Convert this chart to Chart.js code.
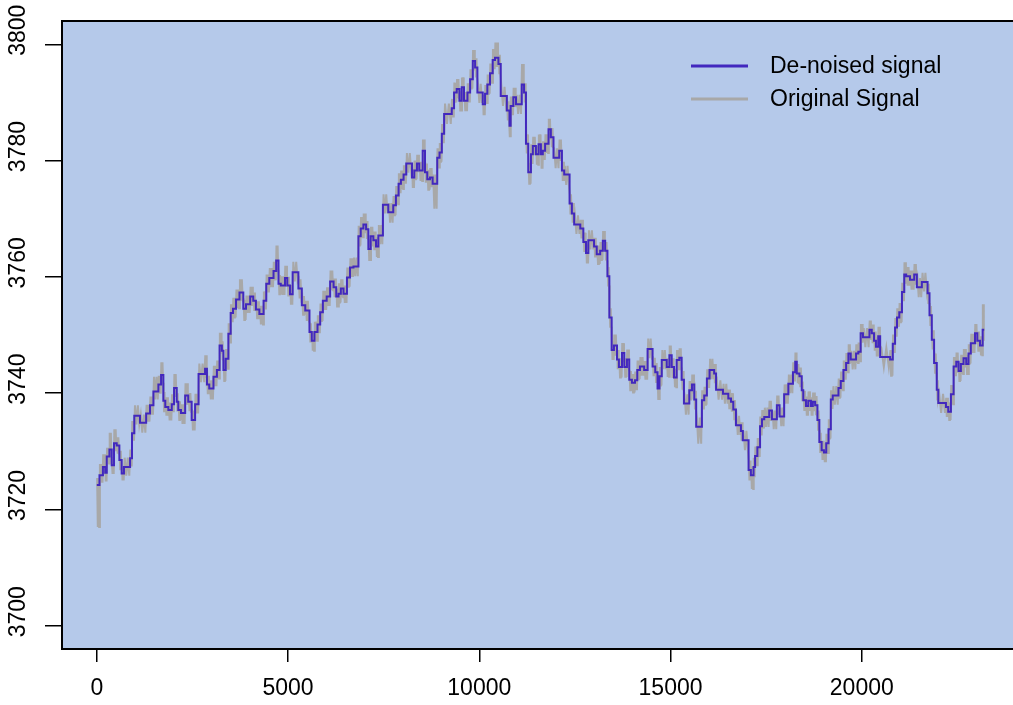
<!DOCTYPE html>
<html>
<head>
<meta charset="utf-8">
<script src="https://cdn.jsdelivr.net/npm/chart.js@4.4.0/dist/chart.umd.min.js"></script>
<style>
  html, body { margin: 0; padding: 0; background: #fff; }
  #wrap { width: 1013px; height: 705px; position: relative; }
</style>
</head>
<body>
<div id="wrap"><canvas id="myChart"></canvas></div>
<script>
// x where each level of the de-noised (step) signal starts
const stepX = [
  0, 70, 160, 220, 260, 330, 390, 450, 520, 590,
  650, 710, 870, 920, 980, 1130, 1290, 1390, 1480, 1610,
  1680, 1740, 1790, 1870, 1960, 2020, 2090, 2130, 2200, 2310,
  2390, 2480, 2570, 2660, 2830, 2880, 2940, 3050, 3140, 3210,
  3270, 3310, 3370, 3440, 3500, 3560, 3640, 3730, 3830, 3900,
  4010, 4090, 4160, 4250, 4360, 4430, 4510, 4620, 4690, 4750,
  4810, 4920, 4980, 5050, 5120, 5270, 5360, 5450, 5560, 5620,
  5690, 5770, 5840, 5910, 6010, 6100, 6190, 6260, 6320, 6380,
  6450, 6540, 6620, 6710, 6840, 6900, 6970, 7040, 7100, 7160,
  7230, 7300, 7360, 7480, 7620, 7750, 7820, 7890, 7950, 8020,
  8090, 8240, 8300, 8370, 8430, 8520, 8580, 8640, 8710, 8780,
  8900, 8960, 9020, 9080, 9280, 9340, 9410, 9480, 9540, 9600,
  9690, 9760, 9830, 9890, 9950, 10090, 10150, 10210, 10280, 10350,
  10410, 10500, 10560, 10720, 10790, 10820, 10890, 10960, 11110, 11170,
  11220, 11280, 11350, 11400, 11480, 11550, 11610, 11660, 11720, 11810,
  11870, 11940, 12090, 12160, 12220, 12360, 12420, 12480, 12640, 12720,
  12790, 12850, 13000, 13070, 13160, 13230, 13290, 13350, 13400, 13460,
  13520, 13600, 13650, 13730, 13790, 13860, 13920, 13990, 14070, 14130,
  14200, 14310, 14400, 14530, 14600, 14660, 14710, 14770, 14900, 14970,
  15030, 15090, 15160, 15230, 15290, 15350, 15490, 15560, 15620, 15670,
  15820, 15880, 15950, 16020, 16140, 16190, 16370, 16510, 16580, 16640,
  16710, 16840, 16890, 17040, 17100, 17170, 17210, 17270, 17340, 17390,
  17450, 17580, 17650, 17780, 17850, 17970, 18080, 18200, 18260, 18300,
  18370, 18430, 18470, 18540, 18600, 18670, 18720, 18780, 18840, 18890,
  18950, 19010, 19070, 19130, 19190, 19240, 19390, 19450, 19520, 19590,
  19650, 19710, 19850, 19910, 19970, 20030, 20200, 20260, 20320, 20370,
  20430, 20480, 20740, 20810, 20870, 20920, 20980, 21050, 21110, 21160,
  21260, 21370, 21440, 21570, 21720, 21770, 21830, 21890, 21960, 22000,
  22200, 22260, 22330, 22400, 22470, 22530, 22590, 22660, 22730, 22790,
  22850, 22960, 23020, 23090, 23160
];
const xEnd = 23200;

const denoised = [
  3724.2, 3725.9, 3727.3, 3726.3, 3729.1, 3730.3, 3727.6, 3731.4, 3731.0, 3728.5,
  3726.2, 3727.3, 3728.8, 3733.1, 3736.1, 3734.9, 3736.5, 3737.9, 3740.3, 3741.5,
  3743.1, 3738.7, 3737.6, 3737.1, 3738.1, 3740.9, 3738.5, 3737.1, 3736.6, 3739.6,
  3738.5, 3735.4, 3738.1, 3743.3, 3744.2, 3741.5, 3740.8, 3742.8, 3744.0, 3748.2,
  3747.3, 3744.0, 3745.9, 3750.2, 3753.8, 3754.5, 3756.1, 3757.3, 3754.5, 3755.3,
  3756.6, 3755.9, 3754.4, 3753.6, 3755.9, 3758.8, 3759.8, 3761.0, 3762.8, 3758.8,
  3758.5, 3759.8, 3758.5, 3757.0, 3760.8, 3758.0, 3755.1, 3754.2, 3750.5, 3749.0,
  3750.5, 3751.8, 3753.9, 3755.9, 3756.6, 3759.2, 3758.2, 3756.6, 3757.1, 3758.0,
  3757.1, 3759.9, 3761.6, 3761.8, 3767.0, 3768.3, 3769.0, 3768.2, 3764.8, 3767.0,
  3766.3, 3765.2, 3767.1, 3772.4, 3771.1, 3772.3, 3774.0, 3776.0, 3776.7, 3777.6,
  3779.5, 3777.1, 3778.3, 3779.5, 3778.3, 3781.7, 3778.0, 3776.8, 3777.1, 3776.0,
  3780.5, 3781.4, 3784.6, 3788.0, 3789.0, 3791.7, 3792.3, 3790.3, 3792.6, 3790.3,
  3791.7, 3794.0, 3797.1, 3796.0, 3791.7, 3789.7, 3791.5, 3793.1, 3795.0, 3797.3,
  3797.7, 3796.6, 3791.1, 3788.6, 3786.0, 3789.4, 3790.9, 3789.7, 3793.1, 3791.7,
  3782.9, 3778.0, 3781.1, 3782.5, 3781.1, 3782.8, 3781.1, 3781.7, 3782.9, 3785.4,
  3784.0, 3780.5, 3781.7, 3778.3, 3777.6, 3772.6, 3770.9, 3769.0, 3768.3, 3766.0,
  3764.1, 3766.3, 3765.2, 3763.9, 3764.5, 3766.2, 3764.5, 3760.1, 3753.0, 3747.4,
  3748.2, 3745.8, 3744.5, 3746.9, 3744.5, 3745.8, 3742.3, 3741.8, 3742.2, 3744.0,
  3744.6, 3744.0, 3747.6, 3744.6, 3743.6, 3740.8, 3742.9, 3745.7, 3744.5, 3746.5,
  3744.5, 3742.7, 3745.7, 3746.1, 3742.3, 3738.2, 3740.5, 3741.5, 3738.9, 3734.2,
  3738.8, 3739.6, 3742.5, 3744.0, 3743.4, 3740.6, 3739.9, 3739.1, 3738.5, 3737.2,
  3734.5, 3733.5, 3731.9, 3726.8, 3725.9, 3727.3, 3729.2, 3730.7, 3734.3, 3735.5,
  3735.9, 3737.0, 3735.5, 3737.9, 3736.0, 3739.8, 3741.6, 3743.6, 3745.4, 3743.4,
  3742.9, 3740.5, 3738.8, 3737.8, 3738.7, 3737.8, 3738.5, 3737.9, 3735.4, 3731.6,
  3730.2, 3729.8, 3731.4, 3733.8, 3738.9, 3739.6, 3740.9, 3742.1, 3744.0, 3745.2,
  3746.8, 3745.8, 3746.8, 3747.1, 3750.3, 3749.6, 3750.9, 3750.3, 3749.0, 3748.0,
  3749.8, 3746.2, 3745.8, 3748.5, 3751.3, 3753.0, 3753.9, 3757.4, 3760.4, 3760.1,
  3759.5, 3760.4, 3758.2, 3759.1, 3757.2, 3753.4, 3749.2, 3745.2, 3740.6, 3738.3,
  3737.6, 3736.8, 3739.8, 3744.6, 3745.4, 3743.8, 3745.0, 3746.0, 3745.0, 3746.8,
  3748.6, 3750.3, 3749.0, 3748.2, 3750.9
];

// highest / lowest reading of the raw signal inside each level
const origHigh = [
  3725.4, 3727.8, 3729.5, 3727.6, 3730.6, 3733.2, 3729.0, 3733.8, 3732.4, 3730.1,
  3727.4, 3728.9, 3730.3, 3735.2, 3737.9, 3736.3, 3738.0, 3739.4, 3742.8, 3743.0,
  3745.3, 3740.2, 3739.3, 3738.4, 3739.8, 3743.3, 3740.0, 3738.6, 3738.1, 3741.7,
  3740.0, 3737.0, 3739.9, 3745.1, 3746.5, 3743.0, 3742.2, 3744.7, 3745.6, 3750.4,
  3748.9, 3745.5, 3747.6, 3752.0, 3755.3, 3756.4, 3757.8, 3759.6, 3756.0, 3756.8,
  3758.3, 3757.3, 3755.8, 3755.0, 3757.5, 3760.4, 3761.5, 3762.6, 3765.4, 3760.3,
  3760.1, 3761.9, 3760.0, 3758.6, 3762.6, 3759.6, 3756.7, 3755.9, 3752.0, 3750.6,
  3752.3, 3753.4, 3755.4, 3757.6, 3758.2, 3761.1, 3759.7, 3758.0, 3758.9, 3759.6,
  3758.5, 3761.6, 3763.2, 3763.3, 3768.8, 3770.3, 3770.9, 3769.6, 3766.3, 3768.6,
  3767.8, 3766.8, 3768.9, 3774.2, 3772.7, 3773.9, 3775.6, 3777.8, 3778.3, 3779.2,
  3781.3, 3778.6, 3780.0, 3781.0, 3779.8, 3783.6, 3779.5, 3778.4, 3778.7, 3777.6,
  3782.1, 3783.0, 3786.3, 3789.8, 3790.6, 3793.4, 3794.0, 3791.9, 3794.3, 3791.8,
  3793.3, 3795.7, 3799.0, 3797.6, 3793.2, 3791.3, 3793.0, 3794.8, 3796.7, 3799.2,
  3800.3, 3798.2, 3792.7, 3790.2, 3787.6, 3791.0, 3792.5, 3791.3, 3796.6, 3793.3,
  3784.5, 3779.6, 3782.8, 3784.1, 3782.6, 3784.5, 3782.7, 3783.3, 3784.5, 3787.2,
  3785.6, 3782.1, 3783.6, 3779.8, 3779.1, 3774.2, 3772.7, 3770.6, 3769.8, 3767.6,
  3765.6, 3768.0, 3766.7, 3765.4, 3766.0, 3767.9, 3766.0, 3761.7, 3754.6, 3749.0,
  3750.1, 3747.4, 3746.0, 3748.6, 3746.0, 3747.5, 3743.8, 3743.3, 3743.7, 3745.6,
  3746.2, 3745.5, 3749.4, 3746.1, 3745.2, 3742.3, 3744.5, 3747.4, 3746.0, 3748.2,
  3746.0, 3744.2, 3747.4, 3747.7, 3743.8, 3739.8, 3742.1, 3743.2, 3740.4, 3735.8,
  3740.5, 3741.1, 3744.1, 3745.9, 3745.0, 3742.2, 3741.6, 3740.6, 3740.0, 3738.8,
  3736.1, 3735.0, 3733.5, 3728.4, 3727.4, 3728.9, 3730.8, 3732.3, 3736.0, 3737.1,
  3737.5, 3738.7, 3737.0, 3739.6, 3737.5, 3741.5, 3743.2, 3745.3, 3747.0, 3745.0,
  3744.4, 3742.0, 3740.4, 3739.4, 3740.3, 3739.3, 3740.1, 3739.5, 3737.0, 3733.2,
  3731.8, 3731.4, 3733.0, 3735.5, 3740.5, 3741.2, 3742.5, 3743.7, 3745.6, 3746.9,
  3748.4, 3747.3, 3748.4, 3748.7, 3751.9, 3751.2, 3752.5, 3751.8, 3750.6, 3749.6,
  3751.4, 3747.8, 3747.4, 3750.1, 3752.9, 3754.6, 3755.5, 3759.0, 3762.5, 3761.7,
  3761.1, 3762.2, 3759.8, 3760.7, 3758.8, 3755.0, 3750.8, 3746.8, 3742.2, 3739.9,
  3739.2, 3738.4, 3741.4, 3746.2, 3747.0, 3745.3, 3746.6, 3747.6, 3746.6, 3748.4,
  3750.2, 3751.9, 3750.6, 3749.8, 3755.3
];
const origLow = [
  3717.0, 3724.6, 3726.0, 3724.8, 3727.9, 3729.0, 3726.1, 3730.2, 3729.6, 3726.9,
  3725.0, 3725.8, 3727.4, 3731.8, 3734.6, 3733.2, 3735.1, 3736.3, 3738.9, 3739.9,
  3741.8, 3736.9, 3736.1, 3735.3, 3736.7, 3739.5, 3737.0, 3735.4, 3734.7, 3738.0,
  3736.9, 3733.6, 3736.5, 3741.9, 3742.6, 3739.8, 3738.9, 3741.2, 3742.5, 3746.8,
  3745.7, 3742.1, 3744.2, 3748.7, 3752.2, 3753.0, 3754.6, 3755.9, 3752.6, 3753.8,
  3755.0, 3754.3, 3752.7, 3751.8, 3754.4, 3757.3, 3758.2, 3759.4, 3761.2, 3757.0,
  3756.9, 3758.3, 3756.8, 3755.2, 3759.2, 3756.3, 3753.5, 3752.4, 3748.9, 3747.3,
  3749.0, 3750.3, 3752.4, 3754.3, 3755.0, 3757.7, 3756.5, 3754.9, 3755.6, 3756.5,
  3755.5, 3758.3, 3760.0, 3760.1, 3765.4, 3766.8, 3767.5, 3766.5, 3762.9, 3765.4,
  3764.6, 3763.4, 3765.6, 3770.9, 3769.3, 3770.6, 3772.5, 3774.4, 3775.1, 3776.0,
  3777.9, 3775.3, 3776.8, 3778.0, 3776.5, 3780.1, 3776.2, 3775.0, 3775.4, 3771.7,
  3778.8, 3779.8, 3783.0, 3786.3, 3787.4, 3790.1, 3790.7, 3788.6, 3791.0, 3788.5,
  3790.0, 3792.4, 3795.5, 3794.3, 3789.9, 3787.8, 3789.9, 3791.5, 3793.4, 3795.7,
  3796.1, 3795.0, 3789.4, 3786.9, 3784.0, 3787.8, 3789.2, 3788.0, 3791.5, 3790.0,
  3781.2, 3776.0, 3779.4, 3780.9, 3779.3, 3781.2, 3778.6, 3780.1, 3781.3, 3783.8,
  3782.3, 3778.7, 3780.1, 3776.5, 3775.8, 3770.9, 3769.3, 3767.4, 3766.6, 3764.3,
  3762.3, 3764.7, 3763.5, 3762.2, 3762.9, 3764.6, 3762.8, 3758.5, 3751.4, 3745.7,
  3746.6, 3744.1, 3742.7, 3745.3, 3742.8, 3744.1, 3740.5, 3740.1, 3740.5, 3742.4,
  3743.0, 3742.3, 3746.0, 3742.9, 3741.9, 3739.0, 3741.3, 3744.1, 3742.8, 3744.9,
  3742.6, 3741.0, 3744.1, 3744.4, 3740.6, 3736.3, 3738.9, 3739.9, 3737.2, 3731.3,
  3737.2, 3738.0, 3740.9, 3742.4, 3741.7, 3738.9, 3738.2, 3737.4, 3736.8, 3735.5,
  3732.8, 3731.8, 3730.2, 3725.0, 3723.5, 3725.7, 3727.6, 3729.0, 3732.7, 3733.9,
  3734.2, 3735.4, 3733.8, 3736.3, 3734.3, 3738.2, 3740.0, 3742.0, 3743.8, 3741.7,
  3741.2, 3738.8, 3737.1, 3736.1, 3737.1, 3736.1, 3736.9, 3736.2, 3733.7, 3729.9,
  3728.5, 3728.1, 3729.7, 3732.2, 3737.3, 3738.0, 3739.2, 3740.5, 3742.3, 3743.6,
  3745.2, 3744.1, 3745.2, 3745.5, 3748.7, 3747.9, 3749.3, 3748.6, 3747.3, 3746.3,
  3748.2, 3744.5, 3743.0, 3746.9, 3749.7, 3751.4, 3752.2, 3755.8, 3758.8, 3758.5,
  3757.8, 3758.8, 3756.5, 3757.5, 3755.5, 3751.7, 3747.5, 3743.5, 3738.9, 3736.6,
  3735.9, 3735.4, 3738.1, 3742.9, 3743.7, 3742.1, 3743.3, 3744.4, 3743.3, 3745.1,
  3746.9, 3748.6, 3747.3, 3746.5, 3749.2
];

const xTicks = [0, 5000, 10000, 15000, 20000];
const yTicks = [3700, 3720, 3740, 3760, 3780, 3800];
const seriesNames = ['De-noised signal', 'Original Signal'];
const seriesColors = ['rgb(66, 40, 190)', 'rgb(168, 168, 168)'];

// step line: one point per level start, plus the last sample
var stepPoints = stepX.map(function (x, i) { return { x: x, y: denoised[i] }; });
stepPoints.push({ x: xEnd, y: denoised[denoised.length - 1] });

// raw signal: bounces between its high and low reading inside each level
var rawPoints = [];
stepX.forEach(function (x, i) {
    var next = i < stepX.length - 1 ? stepX[i + 1] : xEnd;
    var w = next - x;
    rawPoints.push({ x: x + w * 0.12, y: origHigh[i] });
    rawPoints.push({ x: x + w * 0.37, y: origLow[i] });
    rawPoints.push({ x: x + w * 0.62, y: origHigh[i] });
    rawPoints.push({ x: x + w * 0.87, y: origLow[i] });
});

Chart.defaults.font.family = '"Liberation Sans", Arial, Helvetica, sans-serif';
Chart.defaults.font.size = 23;
Chart.defaults.color = '#000';

const plotBackground = {
    id: 'plotBackground',
    beforeDraw: function (chart) {
        const a = chart.chartArea;
        const ctx = chart.ctx;
        ctx.save();
        ctx.fillStyle = '#B5C9EA';
        ctx.fillRect(a.left, a.top, chart.width - a.left + 5, a.bottom - a.top);
        ctx.restore();
    }
};

const plotBox = {
    id: 'plotBox',
    afterDatasetsDraw: function (chart) {
        const a = chart.chartArea;
        const ctx = chart.ctx;
        ctx.save();
        ctx.strokeStyle = '#000';
        ctx.lineWidth = 2;
        ctx.strokeRect(a.left, a.top, chart.width - a.left + 10, a.bottom - a.top);
        ctx.restore();
    }
};

const plotLegend = {
    id: 'plotLegend',
    afterDraw: function (chart) {
        const ctx = chart.ctx;
        ctx.save();
        chart.data.datasets.forEach(function (ds, i) {
            var y = 66 + i * 33;
            ctx.strokeStyle = ds.borderColor;
            ctx.lineWidth = 3;
            ctx.beginPath();
            ctx.moveTo(691, y);
            ctx.lineTo(748, y);
            ctx.stroke();
            ctx.fillStyle = '#000';
            ctx.font = '23px "Liberation Sans", Arial, sans-serif';
            ctx.textAlign = 'left';
            ctx.textBaseline = 'middle';
            ctx.fillText(ds.label, 770, y + 1);
        });
        ctx.restore();
    }
};

var ctx = document.getElementById('myChart');

var myChart = new Chart(ctx, {
    type: 'line',
    data: {
        datasets: [{
            label: seriesNames[0],
            data: stepPoints,
            borderColor: seriesColors[0],
            borderWidth: 2,
            stepped: true,
            pointRadius: 0,
            fill: false
        },
        {
            label: seriesNames[1],
            data: rawPoints,
            borderColor: seriesColors[1],
            borderWidth: 2,
            tension: 0,
            pointRadius: 0,
            fill: false
        }]
    },
    options: {
        responsive: true,
        maintainAspectRatio: false,
        animation: false,
        events: [],
        layout: { padding: { top: 21, left: 0, right: 0, bottom: 0 } },
        plugins: {
            legend: { display: false },
            tooltip: { enabled: false }
        },
        scales: {
            x: {
                type: 'linear',
                min: -910,
                max: 23953,
                afterBuildTicks: function (scale) {
                    scale.ticks = xTicks.map(function (v) { return { value: v }; });
                },
                afterFit: function (scale) { scale.height = 56; },
                grid: {
                    drawOnChartArea: false,
                    drawTicks: true,
                    tickLength: 13,
                    color: '#000',
                    lineWidth: 1.5
                },
                border: { display: false },
                ticks: {
                    padding: 13,
                    maxRotation: 0,
                    autoSkip: false,
                    color: '#000',
                    callback: function (v) { return String(v); }
                }
            },
            y: {
                type: 'linear',
                min: 3696,
                max: 3804,
                afterBuildTicks: function (scale) {
                    scale.ticks = yTicks.map(function (v) { return { value: v }; });
                },
                afterFit: function (scale) { scale.width = 62; },
                grid: {
                    drawOnChartArea: false,
                    drawTicks: true,
                    tickLength: 17,
                    color: '#000',
                    lineWidth: 1.5
                },
                border: { display: false },
                ticks: {
                    padding: 1,
                    minRotation: 90,
                    maxRotation: 90,
                    crossAlign: 'center',
                    labelOffset: -14,
                    autoSkip: false,
                    color: '#000',
                    callback: function (v) { return String(v); }
                }
            }
        }
    },
    plugins: [plotBackground, plotBox, plotLegend]
});
</script>
</body>
</html>
